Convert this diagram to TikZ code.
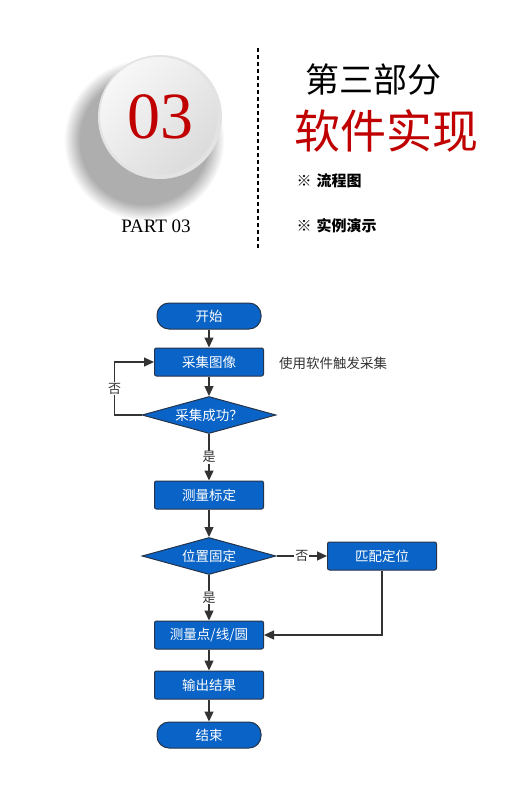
\documentclass[tikz,border=0pt]{standalone}
\usepackage{fontspec}
\setmainfont{Liberation Serif}
\newfontfamily\cjk{Noto Sans CJK SC}
\usetikzlibrary{shapes.geometric,arrows.meta,shadows,fadings}
\definecolor{boxblue}{HTML}{0A63C6}
\definecolor{boxline}{HTML}{25344A}
\definecolor{arrowgray}{HTML}{333333}
\definecolor{titlered}{HTML}{C00000}
\tikzset{
  base/.style={draw=boxline, line width=1pt, fill=boxblue, text=white,
    font=\cjk\fontsize{13.5}{14}\selectfont, inner sep=0pt},
  proc/.style={base, rounded corners=2pt, minimum width=109, minimum height=28},
  term/.style={base, rounded corners=12pt, minimum width=104, minimum height=26},
  dec/.style={base, diamond, aspect=3.6, minimum width=134, minimum height=37},
  arr/.style={draw=arrowgray, line width=1.3pt, -{Triangle[length=10pt,width=9pt]}},
  lbl/.style={fill=white, inner sep=1pt, text=arrowgray, font=\cjk\fontsize{13}{14}\selectfont},
  bullet/.style={anchor=west, font=\cjk\bfseries\fontsize{15}{16}\selectfont}
}
\begin{document}
\begin{tikzpicture}[x=1pt,y=-1pt]
\fill[white] (0,0) rectangle (506,795);
\useasboundingbox (0,0) rectangle (506,795);
% circle badge
\fill[gray!70, path fading=circle with fuzzy edge 20 percent, opacity=0.9] (144,140) circle (80);
\node[circle, minimum size=124, inner sep=0, fill=gray!22] (rim) at (160,117) {};
\shade[left color=gray!6, right color=gray!28, shading angle=45] (159,116) circle (59);
\node[text=titlered, font=\fontsize{66}{66}\selectfont] (num) at (160,117) {03};
\node[font=\fontsize{19}{20}\selectfont] (part) at (156,226) {PART 03};
% dashed divider
\coordinate (dtop) at (258,48);
\coordinate (dbot) at (258,248);
\draw[line width=1.1pt, dash pattern=on 4pt off 3pt] (dtop) -- (dbot);
% titles
\node[font=\cjk\fontsize{34}{36}\selectfont] (t1) at (373,80) {第三部分};
\node[text=titlered, font=\cjk\fontsize{46}{48}\selectfont] (t2) at (386,131) {软件实现};
\node[bullet] (b1) at (293,181) {※\,\,流程图};
\node[bullet] (b2) at (293,226) {※\,\,实例演示};
% flowchart
\node[term] (start) at (209,316) {开始};
\node[proc] (p1) at (209,362) {采集图像};
\node[text=arrowgray, font=\cjk\fontsize{13.5}{14}\selectfont] (note) at (333,363) {使用软件触发采集};
\node[dec] (d1) at (209,415) {采集成功？};
\node[proc] (p2) at (209,495) {测量标定};
\node[dec] (d2) at (209,556) {位置固定};
\node[proc] (p3) at (382,556) {匹配定位};
\node[proc] (p4) at (209,635) {测量点/线/圆};
\node[proc] (p5) at (209,685) {输出结果};
\node[term] (end) at (209,735) {结束};
\draw[arr] (start) -- (p1);
\draw[arr] (p1) -- (d1);
\draw[arr] (d1.west) -- ++(-27,0) |- node[lbl, pos=0.25] {否} (p1.west);
\draw[arr] (d1.south) -- node[lbl] {是} (p2.north);
\draw[arr] (p2) -- (d2);
\draw[arr] (d2.east) -- node[lbl] {否} (p3.west);
\draw[arr] (d2.south) -- node[lbl] {是} (p4.north);
\draw[arr] (p3.south) |- (p4.east);
\draw[arr] (p4) -- (p5);
\draw[arr] (p5) -- (end);
\end{tikzpicture}
\end{document}
